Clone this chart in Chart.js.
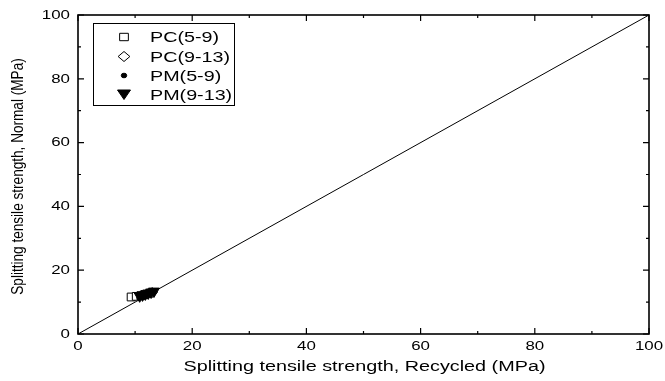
<!DOCTYPE html>
<html>
<head>
<meta charset="utf-8">
<script src="https://cdn.jsdelivr.net/npm/chart.js@4/dist/chart.umd.min.js"></script>
<style>
  html, body { margin: 0; padding: 0; background: #fff; }
</style>
</head>
<body>
<canvas id="c" width="665" height="381"></canvas>
<script>
// data (MPa)
const seriesNames = ['PC(5-9)', 'PC(9-13)', 'PM(5-9)', 'PM(9-13)'];
const pc59X = [9.3, 10.2, 11.0];
const pc59Y = [11.6, 11.8, 12.0];
const pc913X = [11.2, 12.2, 13.0];
const pc913Y = [12.2, 12.6, 13.0];
const pm59X = [11.0, 11.8, 12.5];
const pm59Y = [12.1, 12.4, 12.8];
const pm913X = [10.8, 11.3, 11.8, 12.3, 12.8, 13.3];
const pm913Y = [11.9, 12.2, 12.5, 12.8, 13.1, 13.4];
const lineX = [0, 100];
const lineY = [0, 100];
const majorTicks = [0, 20, 40, 60, 80, 100];
const minorTicks = [10, 30, 50, 70, 90];
const xTitle = 'Splitting tensile strength, Recycled (MPa)';
const yTitle = 'Splitting tensile strength, Normal (MPa)';

const FONT = 'Arial, "Liberation Sans", sans-serif';
const STRETCH = 1.25; // the original figure was widened, its text looks stretched
const pts = (xs, ys) => xs.map((x, i) => ({ x: x, y: ys[i] }));

const markers = [
  { style: 'rect', radius: 5.5, fill: '#fff', rot: 0 },
  { style: 'rectRot', radius: 5, fill: '#fff', rot: 0 },
  { style: 'circle', radius: 2.2, fill: '#000', rot: 0 },
  { style: 'triangle', radius: 6.3, fill: '#000', rot: 180 },
];

function wideText(ctx, text, x, y, k, align) {
  ctx.save();
  ctx.translate(x, y);
  ctx.scale(k, 1);
  ctx.textAlign = align;
  ctx.fillText(text, 0, 0);
  ctx.restore();
}

function legendMarker(ctx, i, x, y) {
  ctx.save();
  ctx.translate(x, y);
  ctx.scale(1.18, 1);
  ctx.beginPath();
  if (i === 0) {
    ctx.rect(-3.7, -3.7, 7.4, 7.4);
  } else if (i === 1) {
    ctx.moveTo(0, -5); ctx.lineTo(5, 0); ctx.lineTo(0, 5); ctx.lineTo(-5, 0); ctx.closePath();
  } else if (i === 2) {
    ctx.arc(0, 0, 2.3, 0, Math.PI * 2);
  } else {
    ctx.moveTo(-5.5, -4.5); ctx.lineTo(5.5, -4.5); ctx.lineTo(0, 5); ctx.closePath();
  }
  ctx.restore();
  ctx.fillStyle = markers[i].fill;
  ctx.fill();
  ctx.lineWidth = 1;
  ctx.strokeStyle = '#000';
  ctx.stroke();
}

// frame with inward ticks on all four sides, labels, titles and boxed legend
const framePlugin = {
  id: 'frame',
  afterDraw(chart) {
    const ctx = chart.ctx;
    const a = chart.chartArea;
    const xs = chart.scales.x, ys = chart.scales.y;
    ctx.save();
    ctx.strokeStyle = '#000';
    ctx.lineWidth = 1.6;
    ctx.strokeRect(a.left, a.top, a.right - a.left, a.bottom - a.top);
    ctx.lineWidth = 1.2;
    ctx.beginPath();
    const tick = (v, len) => {
      const px = xs.getPixelForValue(v);
      ctx.moveTo(px, a.bottom); ctx.lineTo(px, a.bottom - len);
      ctx.moveTo(px, a.top); ctx.lineTo(px, a.top + len);
      const py = ys.getPixelForValue(v);
      ctx.moveTo(a.left, py); ctx.lineTo(a.left + len, py);
      ctx.moveTo(a.right, py); ctx.lineTo(a.right - len, py);
    };
    majorTicks.forEach(v => tick(v, 6));
    minorTicks.forEach(v => tick(v, 3));
    ctx.stroke();

    // tick labels
    ctx.fillStyle = '#000';
    ctx.textBaseline = 'middle';
    ctx.font = '13.5px ' + FONT;
    xs.ticks.forEach(t => {
      wideText(ctx, String(t.value), xs.getPixelForValue(t.value), a.bottom + 12, STRETCH, 'center');
    });
    ys.ticks.forEach(t => {
      wideText(ctx, String(t.value), a.left - 8, ys.getPixelForValue(t.value), STRETCH, 'right');
    });

    // axis titles
    ctx.font = '15.5px ' + FONT;
    const kx = 362 / ctx.measureText(xTitle).width;
    wideText(ctx, xTitle, (a.left + a.right) / 2 + 1, 367, kx, 'center');
    ctx.font = '13.6px ' + FONT;
    ctx.save();
    ctx.translate(18, (a.top + a.bottom) / 2 + 2);
    ctx.rotate(-Math.PI / 2);
    ctx.scale(1, STRETCH);
    ctx.textAlign = 'center';
    ctx.fillText(yTitle, 0, 0);
    ctx.restore();

    // legend
    const bx = 93, by = 23, bw = 141, bh = 82;
    ctx.lineWidth = 1;
    ctx.fillStyle = '#fff';
    ctx.fillRect(bx, by, bw, bh);
    ctx.strokeStyle = '#000';
    ctx.strokeRect(bx + 0.5, by + 0.5, bw, bh);
    ctx.font = '14.5px ' + FONT;
    const rows = [37, 56.5, 75.5, 94.5];
    const kl = 80 / ctx.measureText(seriesNames[1]).width;
    seriesNames.forEach((name, i) => {
      legendMarker(ctx, i, 124, rows[i]);
      ctx.fillStyle = '#000';
      wideText(ctx, name, 150, rows[i] + 1, kl, 'left');
    });
    ctx.restore();
  }
};

const scatterSet = (label, data, m, order) => ({
  type: 'scatter',
  label: label,
  data: data,
  pointStyle: m.style,
  pointRadius: m.radius,
  pointRotation: m.rot,
  pointBackgroundColor: m.fill,
  pointBorderColor: '#000',
  pointBorderWidth: 1,
  order: order
});

new Chart(document.getElementById('c'), {
  type: 'scatter',
  data: {
    datasets: [
      scatterSet(seriesNames[0], pts(pc59X, pc59Y), markers[0], 4),
      scatterSet(seriesNames[1], pts(pc913X, pc913Y), markers[1], 3),
      scatterSet(seriesNames[2], pts(pm59X, pm59Y), markers[2], 2),
      scatterSet(seriesNames[3], pts(pm913X, pm913Y), markers[3], 1),
      {
        type: 'line',
        label: 'y = x',
        data: pts(lineX, lineY),
        borderColor: '#000',
        borderWidth: 1,
        pointRadius: 0,
        fill: false,
        order: 5
      }
    ]
  },
  options: {
    responsive: false,
    animation: false,
    layout: { padding: { top: 15, right: 16, left: 0, bottom: 0 } },
    plugins: { legend: { display: false }, tooltip: { enabled: false } },
    scales: {
      x: {
        type: 'linear', min: 0, max: 100,
        afterBuildTicks: s => { s.ticks = majorTicks.map(v => ({ value: v })); },
        afterFit: s => { s.height = 47; },
        grid: { display: false, drawTicks: false },
        border: { display: false },
        ticks: { display: false },
        title: { display: false, text: xTitle }
      },
      y: {
        type: 'linear', min: 0, max: 100,
        afterBuildTicks: s => { s.ticks = majorTicks.map(v => ({ value: v })); },
        afterFit: s => { s.width = 78; },
        grid: { display: false, drawTicks: false },
        border: { display: false },
        ticks: { display: false },
        title: { display: false, text: yTitle }
      }
    }
  },
  plugins: [framePlugin]
});
</script>
</body>
</html>
